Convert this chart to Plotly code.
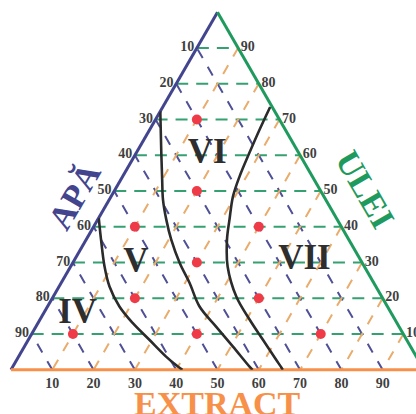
import plotly.graph_objects as go

# Grid / tick positions shared by the three ternary axes
tick_values = [10, 20, 30, 40, 50, 60, 70, 80, 90]
# Labels read clockwise: each edge shows the component of the vertex it runs toward
apa_tick_labels = ["90", "80", "70", "60", "50", "40", "30", "20", "10"]
extract_tick_labels = ["90", "80", "70", "60", "50", "40", "30", "20", "10"]
ulei_tick_labels = ["90", "80", "70", "60", "50", "40", "30", "20", "10"]

# Sampled compositions (ULEI / APĂ / EXTRACT, %)
point_ulei = [70, 50, 40, 40, 30, 20, 20, 10, 10, 10]
point_apa = [20, 30, 50, 20, 40, 60, 30, 80, 50, 20]
point_extract = [10, 20, 10, 40, 30, 20, 50, 10, 40, 70]

# Boundary IV / V
b1_ulei = [42.5, 36.4, 28.9, 23.3, 17.7, 13.1, 8.4, 3.7, 1.2, 0.0]
b1_apa = [57.5, 60.0, 62.9, 64.5, 64.9, 64.0, 62.3, 60.6, 59.3, 58.5]
b1_extract = [0.0, 3.6, 8.2, 12.2, 17.4, 22.9, 29.3, 35.7, 39.5, 41.5]

# Boundary V / VI
b2_ulei = [72.3, 62.5, 53.2, 47.6, 42.0, 36.4, 29.9, 24.3, 17.7, 12.1, 6.5, 0.9, 0.0]
b2_apa = [27.7, 32.4, 36.8, 39.4, 41.4, 43.0, 44.2, 44.6, 45.5, 44.3, 43.0, 41.8, 41.5]
b2_extract = [0.0, 5.1, 10.0, 13.0, 16.6, 20.6, 25.9, 31.1, 36.8, 43.6, 50.5, 57.3, 58.5]

# Boundary VI / VII
b3_ulei = [73.5, 67.2, 60.6, 54.1, 48.5, 42.0, 36.4, 28.9, 20.5, 14.0, 8.4, 2.8, 0.6, 0.0]
b3_apa = [0.5, 6.2, 12.0, 17.6, 22.0, 26.1, 29.5, 33.1, 35.2, 35.2, 34.8, 34.4, 34.2, 34.2]
b3_extract = [26.0, 26.6, 27.4, 28.3, 29.5, 31.9, 34.1, 38.0, 44.3, 50.8, 56.8, 62.8, 65.2, 65.8]

# Region names and their label anchors
region_names = ["IV", "V", "VI", "VII"]
region_ulei = [15.5, 29.9, 60.4, 30.7]
region_apa = [76.1, 54.8, 22.3, 13.6]
region_extract = [8.4, 15.3, 17.3, 55.7]

NAVY = "#43448e"
GREEN = "#1f9a5e"
ORANGE = "#f7914a"
NAVY_GRID = "#4f5096"
GREEN_GRID = "#35a070"
ORANGE_GRID = "#e9ac6c"
SERIF = "Liberation Serif"

tick_font = dict(family=SERIF, size=14, color="#3f3f3f", weight="bold")


def axis(labels, grid_color, grid_dash, line_color):
    return dict(
        tickmode="array",
        tickvals=tick_values,
        ticktext=labels,
        ticks="",
        tickfont=tick_font,
        showgrid=True,
        gridcolor=grid_color,
        griddash=grid_dash,
        gridwidth=1.8,
        showline=True,
        linecolor=line_color,
        linewidth=3,
        title=dict(text=""),
        layer="below traces",
    )


fig = go.Figure()

for a, b, c in [(b1_ulei, b1_apa, b1_extract),
                (b2_ulei, b2_apa, b2_extract),
                (b3_ulei, b3_apa, b3_extract)]:
    fig.add_trace(go.Scatterternary(
        a=a, b=b, c=c, mode="lines",
        line=dict(color="#2b2b2b", width=2.6, shape="spline", smoothing=1.0),
        hoverinfo="skip", showlegend=False,
    ))

fig.add_trace(go.Scatterternary(
    a=point_ulei, b=point_apa, c=point_extract, mode="markers",
    marker=dict(color="#ef3b48", size=10, line=dict(width=0)),
    showlegend=False,
))

fig.add_trace(go.Scatterternary(
    a=region_ulei, b=region_apa, c=region_extract, mode="text",
    text=region_names, textposition="middle center",
    textfont=dict(family=SERIF, size=35, color="#2e2e2e", weight="bold"),
    showlegend=False, hoverinfo="skip",
))

fig.update_layout(
    width=424, height=414,
    margin=dict(l=11, r=0, t=12, b=44, autoexpand=False),
    paper_bgcolor="white",
    plot_bgcolor="white",
    showlegend=False,
    ternary=dict(
        sum=100,
        bgcolor="white",
        domain=dict(x=[0, 1], y=[0, 1]),
        aaxis=axis(apa_tick_labels, GREEN_GRID, "12px,8px", NAVY),
        baxis=axis(extract_tick_labels, NAVY_GRID, "10px,10px", ORANGE),
        caxis=axis(ulei_tick_labels, ORANGE_GRID, "10px,10px", GREEN),
    ),
    annotations=[
        dict(text="APĂ", x=0.1525, y=0.486, xref="paper", yref="paper",
             textangle=-60, showarrow=False, xanchor="center", yanchor="middle",
             font=dict(family=SERIF, size=34, color=NAVY, weight="bold")),
        dict(text="ULEI", x=0.857, y=0.503, xref="paper", yref="paper",
             textangle=60, showarrow=False, xanchor="center", yanchor="middle",
             font=dict(family=SERIF, size=34, color=GREEN, weight="bold")),
        dict(text="EXTRACT", x=0.501, y=-0.094, xref="paper", yref="paper",
             showarrow=False, xanchor="center", yanchor="middle",
             font=dict(family=SERIF, size=34, color=ORANGE, weight="bold")),
    ],
)

fig.write_html(
    "out.html",
    post_script="document.documentElement.style.overflow='hidden';"
                "document.body.style.overflow='hidden';",
)
